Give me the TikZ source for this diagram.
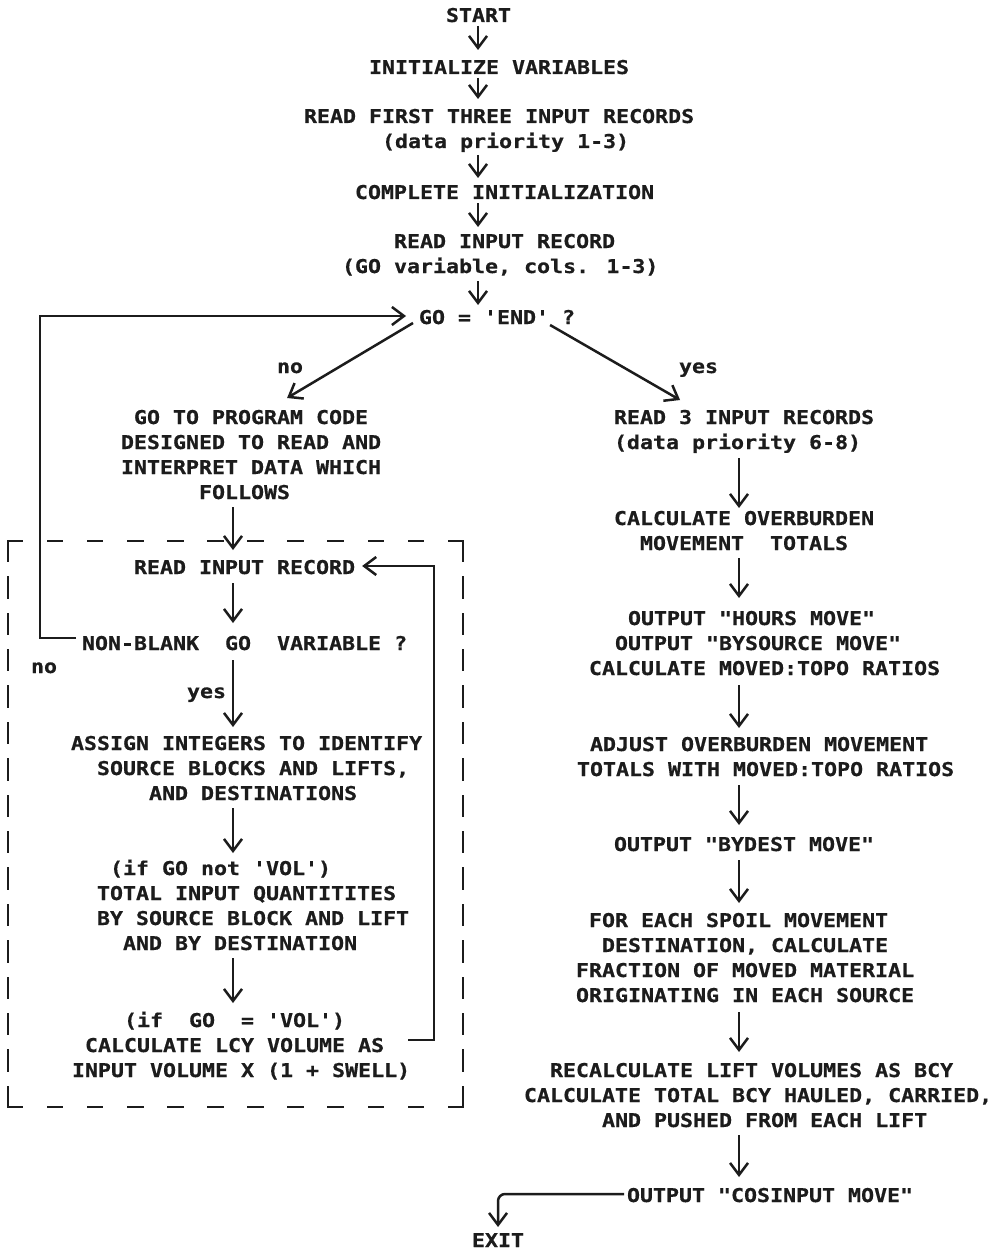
\documentclass[tikz,border=0pt]{standalone}
\usepackage{fontspec}
\usetikzlibrary{arrows.meta}
\newfontfamily\plotfont{DejaVu Sans Mono}[FakeStretch=1.137,FakeBold=0.6]
\definecolor{ink}{RGB}{28,28,28}
\newlength\cw
\newcommand\qs{\char"27\relax}
\newcommand\dq{\char"22\relax}
% line strut: 20pt above the baseline, 4pt below
\newcommand\sr{\rule[-4pt]{0pt}{24pt}}
% indent by a number of character cells
\newcommand\pd[1]{\settowidth{\cw}{X}\hspace*{#1\cw}}
\begin{document}
\begin{tikzpicture}[x=1pt,y=-1pt,color=ink,
  txt/.style={inner sep=0pt,outer sep=0pt,anchor=north west,align=left,
    font=\plotfont\bfseries\fontsize{19}{25}\selectfont,text=ink},
  arr/.style={line width=2.5pt,-{Straight Barb[length=12pt,width=18pt]}},
  frame/.style={line width=2.5pt,line cap=rect}]
\fill[white] (0,0) rectangle (993,1252);
\useasboundingbox (0,0) rectangle (993,1252);

% column positions of the vertical connectors
\coordinate (cm) at (478,0);
\coordinate (cl) at (233,0);
\coordinate (cr) at (739,0);
\coordinate (lpl) at (40,0);
\coordinate (lpr) at (434,0);

% main column
\node[txt] (start) at (446,2) {\sr START};
\node[txt] (init) at (369,54) {\sr INITIALIZE VARIABLES};
\node[txt] (rfirst) at (304,103) {\sr READ FIRST THREE INPUT RECORDS\\ \sr\pd{6}(data priority 1-3)};
\node[txt] (compl) at (355,179) {\sr COMPLETE INITIALIZATION};
\node[txt] (rrec) at (342,228) {\sr\pd{4}READ INPUT RECORD\\ \sr(GO variable, cols. 1-3)};
\node[txt] (goq) at (419,304) {\sr GO = \qs END\qs{} ?};
\node[txt] (no1) at (277,353) {\sr no};
\node[txt] (yes1) at (679,353) {\sr yes};

% left branch
\node[txt] (goto) at (121,404) {\sr\pd{1}GO TO PROGRAM CODE\\ \sr DESIGNED TO READ AND\\ \sr INTERPRET DATA WHICH\\ \sr\pd{6}FOLLOWS};
\node[txt] (rin) at (134,554) {\sr READ INPUT RECORD};
\node[txt] (nonblank) at (82,630) {\sr NON-BLANK~~GO~~VARIABLE ?};
\node[txt] (no2) at (31,653) {\sr no};
\node[txt] (yes2) at (187,678) {\sr yes};
\node[txt] (assign) at (71,730) {\sr ASSIGN INTEGERS TO IDENTIFY\\ \sr\pd{2}SOURCE BLOCKS AND LIFTS,\\ \sr\pd{6}AND DESTINATIONS};
\node[txt] (ifnot) at (97,855) {\sr\pd{1}(if GO not \qs VOL\qs)\\ \sr TOTAL INPUT QUANTITITES\\ \sr BY SOURCE BLOCK AND LIFT\\ \sr\pd{2}AND BY DESTINATION};
\node[txt] (vol) at (72,1007) {\sr\pd{4}(if~~GO~~= \qs VOL\qs)\\ \sr\pd{1}CALCULATE LCY VOLUME AS\\ \sr INPUT VOLUME X (1 + SWELL)};

% right branch
\node[txt] (r3) at (614,404) {\sr READ 3 INPUT RECORDS\\ \sr(data priority 6-8)};
\node[txt] (ovb) at (614,505) {\sr CALCULATE OVERBURDEN\\ \sr\pd{2}MOVEMENT~~TOTALS};
\node[txt] (out1) at (589,605) {\sr\pd{3}OUTPUT \dq HOURS MOVE\dq\\ \sr\pd{2}OUTPUT \dq BYSOURCE MOVE\dq\\ \sr CALCULATE MOVED:TOPO RATIOS};
\node[txt] (adj) at (577,731) {\sr\pd{1}ADJUST OVERBURDEN MOVEMENT\\ \sr TOTALS WITH MOVED:TOPO RATIOS};
\node[txt] (byd) at (614,831) {\sr OUTPUT \dq BYDEST MOVE\dq};
\node[txt] (spoil) at (576,907) {\sr\pd{1}FOR EACH SPOIL MOVEMENT\\ \sr\pd{2}DESTINATION, CALCULATE\\ \sr FRACTION OF MOVED MATERIAL\\ \sr ORIGINATING IN EACH SOURCE};
\node[txt] (recalc) at (524,1057) {\sr\pd{2}RECALCULATE LIFT VOLUMES AS BCY\\ \sr CALCULATE TOTAL BCY HAULED, CARRIED,\\ \sr\pd{6}AND PUSHED FROM EACH LIFT};
\node[txt] (cos) at (627,1182) {\sr OUTPUT \dq COSINPUT MOVE\dq};
\node[txt] (exit) at (472,1227) {\sr EXIT};

% dashed frame round the record loop
\coordinate (bxa) at (8,541);
\coordinate (bxb) at (463,1107);
\draw[frame,dash pattern=on 14pt off 26.09pt] (bxa) -- (bxa -| bxb);
\draw[frame,dash pattern=on 14pt off 26.09pt] (bxa |- bxb) -- (bxb);
\draw[frame,dash pattern=on 20pt off 16.4pt] (bxa) -- (bxa |- bxb);
\draw[frame,dash pattern=on 20pt off 16.4pt] (bxa -| bxb) -- (bxb);

% main column connectors
\draw[arr,shorten >=4pt] (start.south -| cm) -- (init.north -| cm);
\draw[arr,shorten >=4pt] (init.south -| cm) -- (rfirst.north -| cm);
\draw[arr,shorten <=3pt,shorten >=1pt] (rfirst.south -| cm) -- (compl.north -| cm);
\draw[arr,shorten >=1pt] (compl.south -| cm) -- (rrec.north -| cm);
\draw[arr,shorten <=4pt,shorten >=-1pt] (rrec.south -| cm) -- (goq.north -| cm);
\draw[arr] ([xshift=-6pt,yshift=5pt]goq.south west) -- ([xshift=36pt,yshift=6pt]goto.north);
\draw[arr] ([xshift=-25pt,yshift=3pt]goq.south east) -- ([xshift=-64pt,yshift=4pt]r3.north);

% left branch connectors
\draw[arr,shorten <=4pt,shorten >=4pt] (goto.south -| cl) -- (rin.north -| cl);
\draw[arr,shorten <=5pt,shorten >=7pt] (rin.south -| cl) -- (nonblank.north -| cl);
\draw[arr,shorten <=6pt,shorten >=3pt] (nonblank.south -| cl) -- (assign.north -| cl);
\draw[arr,shorten <=4pt,shorten >=2pt] (assign.south -| cl) -- (ifnot.north -| cl);
\draw[arr,shorten <=4pt,shorten >=4pt] (ifnot.south -| cl) -- (vol.north -| cl);
\draw[arr,shorten <=6pt,shorten >=13pt] ([yshift=4pt]nonblank.west) -| (lpl |- goq.west) -- (goq.west);
\draw[arr,shorten <=-2pt,shorten >=7pt] ([yshift=4pt]vol.east) -| (lpr |- rin.east) -- (rin.east);

% right branch connectors
\draw[arr,shorten <=5pt,shorten >=-3pt] (r3.south -| cr) -- (ovb.north -| cr);
\draw[arr,shorten <=4pt,shorten >=7pt] (ovb.south -| cr) -- (out1.north -| cr);
\draw[arr,shorten <=6pt,shorten >=3pt] (out1.south -| cr) -- (adj.north -| cr);
\draw[arr,shorten <=5pt,shorten >=6pt] (adj.south -| cr) -- (byd.north -| cr);
\draw[arr,shorten <=5pt,shorten >=4pt] (byd.south -| cr) -- (spoil.north -| cr);
\draw[arr,shorten <=6pt,shorten >=5pt] (spoil.south -| cr) -- (recalc.north -| cr);
\draw[arr,shorten <=4pt,shorten >=5pt] (recalc.south -| cr) -- (cos.north -| cr);
\draw[arr,rounded corners=7pt,shorten <=3pt] (cos.west) -| (exit.north);
\end{tikzpicture}
\end{document}
